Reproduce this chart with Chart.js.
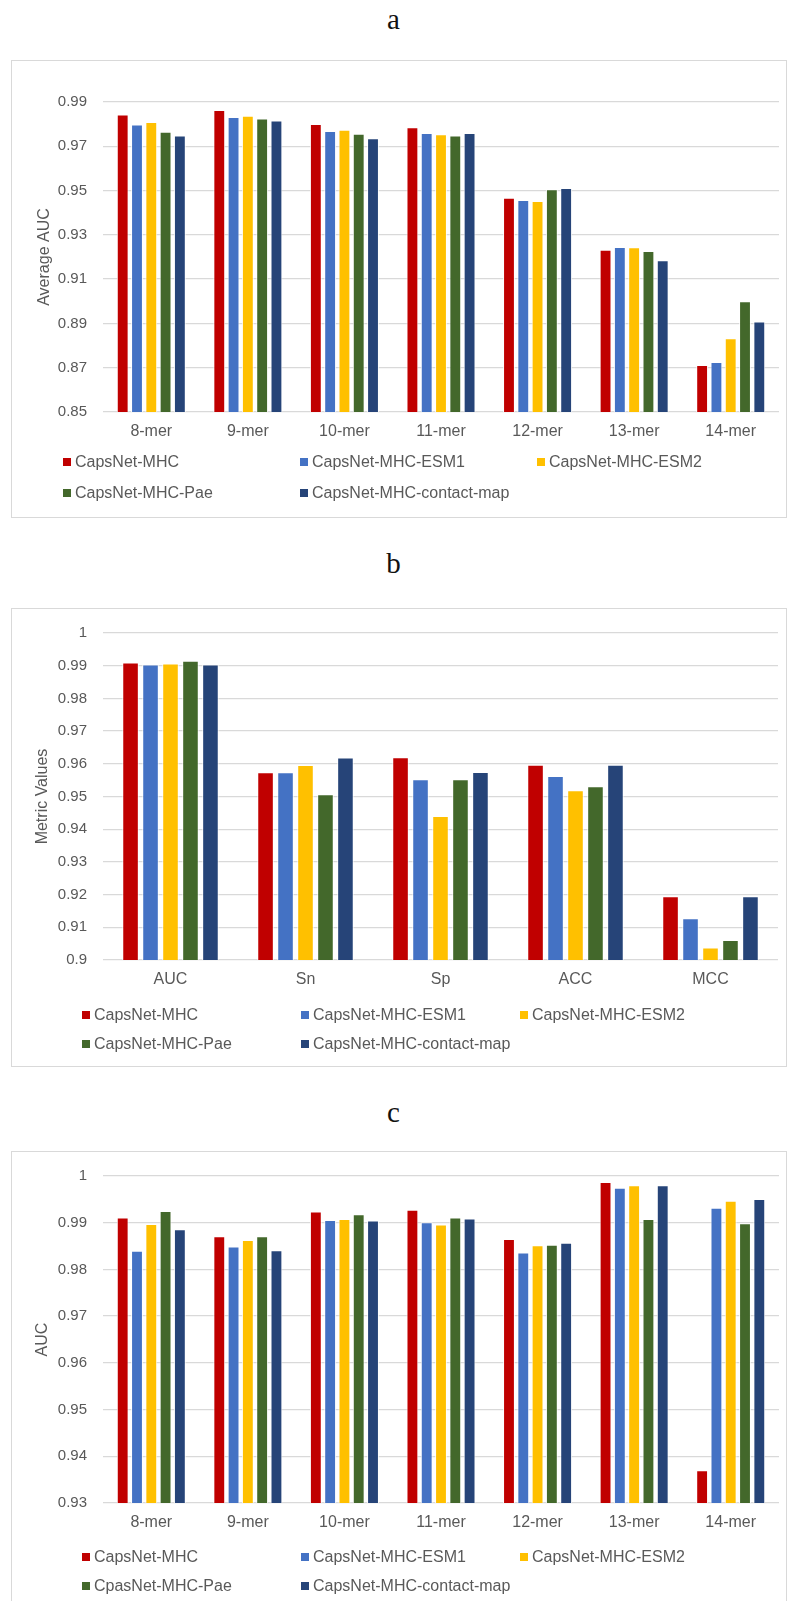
<!DOCTYPE html>
<html>
<head>
<meta charset="utf-8">
<script src="https://cdn.jsdelivr.net/npm/chart.js@4.4.1/dist/chart.umd.min.js"></script>
<style>
  body { margin: 0; background: #fff; width: 787px; height: 1601px; position: relative; overflow: hidden; }
  .letter { position: absolute; left: 0; width: 787px; text-align: center; font-family: "Liberation Serif", serif; font-size: 29px; color: #111; line-height: 30px; }
  .box { position: absolute; left: 11px; width: 776px; border: 1px solid #d9d9d9; box-sizing: border-box; }
  canvas { position: absolute; left: 11px; }
  .lg { position: absolute; font-family: "Liberation Sans", Arial, sans-serif; font-size: 16px; color: #595959; line-height: 20px; white-space: nowrap; }
  .lg i { display: inline-block; width: 8px; height: 8px; margin-right: 4px; vertical-align: 1px; }
</style>
</head>
<body>
<script>
// categories
const merLabels = ['8-mer', '9-mer', '10-mer', '11-mer', '12-mer', '13-mer', '14-mer'];
const metricLabels = ['AUC', 'Sn', 'Sp', 'ACC', 'MCC'];

// series names (panel c has its own spelling for the Pae model)
const seriesNames = ['CapsNet-MHC', 'CapsNet-MHC-ESM1', 'CapsNet-MHC-ESM2', 'CapsNet-MHC-Pae', 'CapsNet-MHC-contact-map'];
const seriesNamesC = ['CapsNet-MHC', 'CapsNet-MHC-ESM1', 'CapsNet-MHC-ESM2', 'CpasNet-MHC-Pae', 'CapsNet-MHC-contact-map'];
const seriesColors = ['#c00000', '#4472c4', '#ffc000', '#43682b', '#264478'];

// panel a - average AUC by peptide length
const aMHC     = [0.9844, 0.9864, 0.9801, 0.9786, 0.9468, 0.9233, 0.8712];
const aESM1    = [0.9798, 0.9832, 0.9769, 0.9760, 0.9457, 0.9245, 0.8726];
const aESM2    = [0.9810, 0.9838, 0.9775, 0.9754, 0.9453, 0.9244, 0.8833];
const aPae     = [0.9766, 0.9825, 0.9757, 0.9749, 0.9506, 0.9227, 0.9000];
const aContact = [0.9749, 0.9817, 0.9736, 0.9760, 0.9512, 0.9185, 0.8909];

// panel b - metrics
const bMHC     = [0.9910, 0.9574, 0.9620, 0.9597, 0.9195];
const bESM1    = [0.9904, 0.9574, 0.9553, 0.9563, 0.9128];
const bESM2    = [0.9907, 0.9596, 0.9440, 0.9519, 0.9038];
const bPae     = [0.9915, 0.9507, 0.9553, 0.9531, 0.9061];
const bContact = [0.9904, 0.9619, 0.9575, 0.9597, 0.9195];

// panel c - AUC by peptide length
const cMHC     = [0.9911, 0.9871, 0.9924, 0.9928, 0.9865, 0.9987, 0.9370];
const cESM1    = [0.9840, 0.9849, 0.9906, 0.9901, 0.9836, 0.9975, 0.9932];
const cESM2    = [0.9897, 0.9863, 0.9908, 0.9896, 0.9852, 0.9980, 0.9947];
const cPae     = [0.9925, 0.9871, 0.9918, 0.9911, 0.9853, 0.9908, 0.9899];
const cContact = [0.9886, 0.9841, 0.9905, 0.9909, 0.9857, 0.9980, 0.9951];

// y axis ranges: [min, max, step]
const aRange = [0.85, 0.99, 0.02];
const bRange = [0.9, 1, 0.01];
const cRange = [0.93, 1, 0.01];

const FONT = '"Liberation Sans", Arial, sans-serif';

function addDiv(cls, style, html) {
  const d = document.createElement('div');
  d.className = cls;
  Object.assign(d.style, style);
  if (html) d.innerHTML = html;
  document.body.appendChild(d);
  return d;
}

function makePanel(p) {
  addDiv('letter', { top: (p.letterY - 15) + 'px' }, p.letter);
  addDiv('box', { top: p.boxTop + 'px', height: p.boxH + 'px' });

  const cv = document.createElement('canvas');
  cv.width = 775;
  cv.height = p.canvasH;
  cv.style.top = p.boxTop + 'px';
  document.body.appendChild(cv);

  const datasets = p.series.map((vals, i) => ({
    label: p.names[i],
    data: vals,
    backgroundColor: seriesColors[i],
    borderColor: 'rgba(255,255,255,0.85)',
    borderWidth: 1,
    categoryPercentage: 0.74,
    barPercentage: 0.83
  }));

  const chart = new Chart(cv.getContext('2d'), {
    type: 'bar',
    data: { labels: p.labels, datasets: datasets },
    options: {
      responsive: false,
      animation: false,
      layout: { padding: { top: p.padTop, right: p.padRight, left: 0, bottom: 0 } },
      plugins: { legend: { display: false }, tooltip: { enabled: false } },
      scales: {
        x: {
          grid: { display: false, drawTicks: false },
          border: { display: false },
          ticks: { color: '#595959', font: { family: FONT, size: 16 }, padding: 10 },
          afterFit: s => { s.height = p.canvasH - 352; }
        },
        y: {
          min: p.range[0],
          max: p.range[1],
          ticks: {
            stepSize: p.range[2],
            padding: 16,
            color: '#595959',
            font: { family: FONT, size: 15 },
            callback: v => String(parseFloat(v.toFixed(2)))
          },
          grid: { color: '#d9d9d9', lineWidth: 1.3, drawTicks: false },
          border: { display: false },
          title: {
            display: true,
            text: p.yTitle,
            color: '#595959',
            font: { family: FONT, size: 16 },
            padding: { top: p.titlePad, bottom: 0 }
          },
          afterFit: s => { s.width = 92; }
        }
      }
    }
  });

  // legend in two rows, fixed columns, built from the chart's datasets
  chart.data.datasets.forEach((ds, i) => {
    const row = i < 3 ? 0 : 1;
    const col = i % 3;
    addDiv('lg', { left: p.legendX[col] + 'px', top: (p.legendY[row] - 10) + 'px' },
      '<i style="background:' + ds.backgroundColor + '"></i>' + ds.label);
  });
}

makePanel({
  letter: 'a', letterY: 19, boxTop: 60, boxH: 458, canvasH: 458, padTop: 42, padRight: 7, titlePad: 24,
  labels: merLabels, names: seriesNames, series: [aMHC, aESM1, aESM2, aPae, aContact],
  range: aRange, yTitle: 'Average AUC',
  legendX: [63, 300, 537], legendY: [462, 493]
});

makePanel({
  letter: 'b', letterY: 563, boxTop: 608, boxH: 459, canvasH: 458, padTop: 20, padRight: 8, titlePad: 22,
  labels: metricLabels, names: seriesNames, series: [bMHC, bESM1, bESM2, bPae, bContact],
  range: bRange, yTitle: 'Metric Values',
  legendX: [82, 301, 520], legendY: [1015, 1044]
});

makePanel({
  letter: 'c', letterY: 1112, boxTop: 1151, boxH: 470, canvasH: 450, padTop: 21, padRight: 7, titlePad: 22,
  labels: merLabels, names: seriesNamesC, series: [cMHC, cESM1, cESM2, cPae, cContact],
  range: cRange, yTitle: 'AUC',
  legendX: [82, 301, 520], legendY: [1557, 1586]
});
</script>
</body>
</html>
